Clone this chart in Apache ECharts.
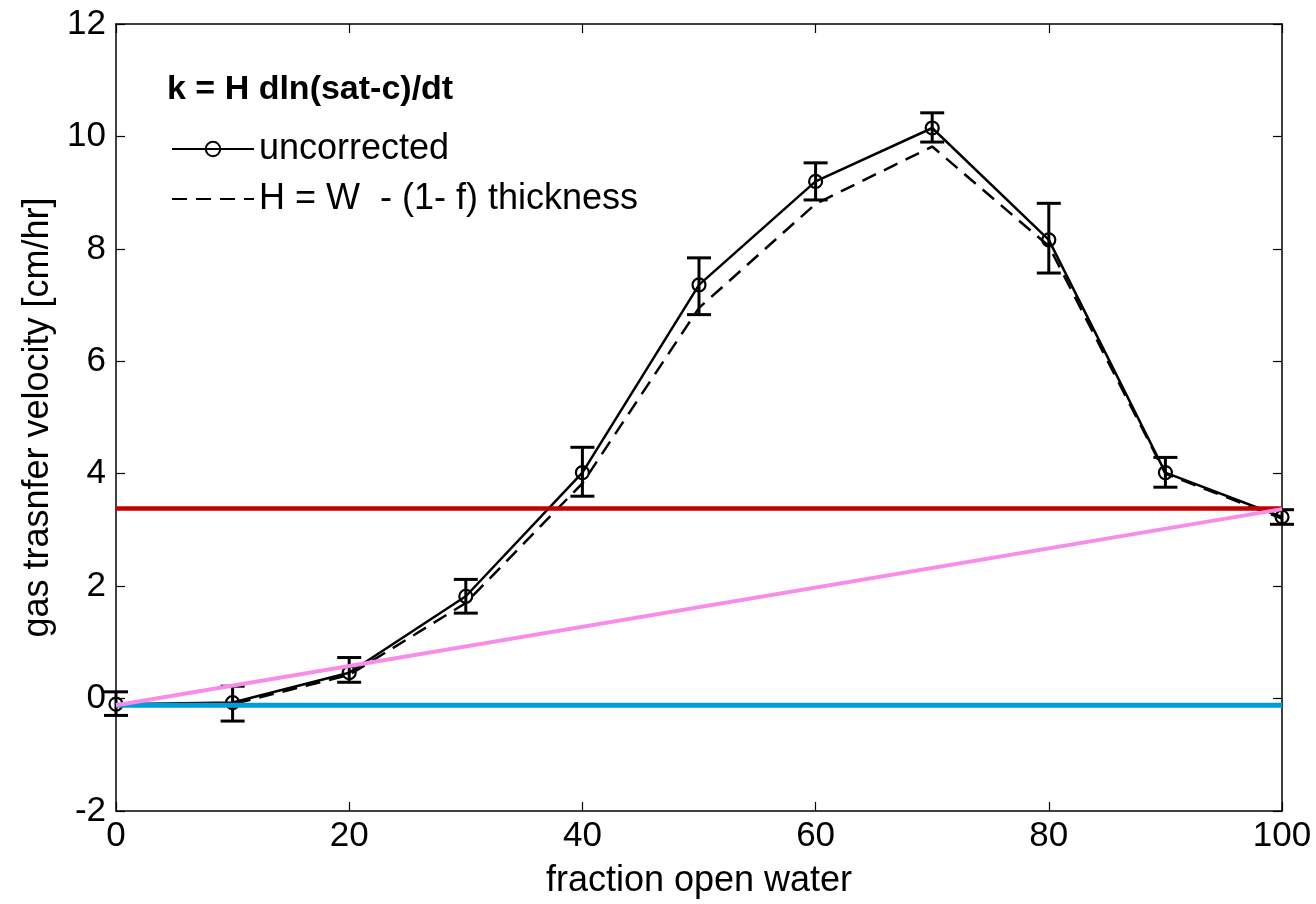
<!DOCTYPE html>
<html>
<head>
<meta charset="utf-8">
<script src="https://cdn.jsdelivr.net/npm/echarts@6/dist/echarts.min.js"></script>
<style>
html,body{margin:0;padding:0;background:#fff;}
#c{width:1316px;height:904px;}
</style>
</head>
<body>
<div id="c"></div>
<script>
const xValues = [0, 10, 20, 30, 40, 50, 60, 70, 80, 90, 100];
const uncorrected = [-0.1, -0.07, 0.46, 1.82, 4.02, 7.36, 9.2, 10.15, 8.16, 4.02, 3.23];
const errLow = [-0.3, -0.4, 0.29, 1.52, 3.6, 6.83, 8.87, 9.9, 7.57, 3.76, 3.1];
const errHigh = [0.12, 0.22, 0.73, 2.12, 4.47, 7.84, 9.53, 10.42, 8.81, 4.29, 3.36];
const corrected = [-0.1, -0.1, 0.42, 1.7, 3.83, 6.95, 8.8, 9.82, 8.05, 4.0, 3.2];
const redLevel = 3.38;
const blueLevel = -0.12;
const pinkStart = -0.12;
const pinkEnd = 3.37;
const xRange = [0, 100];
const legendNames = ['uncorrected', 'H = W  - (1- f) thickness'];
const titleText = 'k = H dln(sat-c)/dt';
const xName = 'fraction open water';
const yName = 'gas trasnfer velocity [cm/hr]';

const FONT = '"Liberation Sans", Arial, sans-serif';
const chart = echarts.init(document.getElementById('c'), null, {renderer: 'canvas'});

const axisCommon = {
  axisLine: {show: true, onZero: false, lineStyle: {color: '#000', width: 1.5}},
  axisTick: {show: true, inside: true, length: 9, lineStyle: {color: '#000', width: 1.2}},
  splitLine: {show: false}
};

const option = {
  animation: false,
  backgroundColor: '#fff',
  title: {
    text: titleText, left: 162, top: 68,
    textStyle: {fontFamily: FONT, fontWeight: 'bold', fontSize: 34, color: '#000'}
  },
  legend: {
    data: [
      {name: legendNames[0]},
      {name: legendNames[1], itemStyle: {color: 'transparent', borderColor: 'transparent', borderWidth: 0}}
    ],
    orient: 'vertical', left: 166, top: 125,
    itemWidth: 82, itemHeight: 18, itemGap: 12,
    textStyle: {fontFamily: FONT, fontSize: 36, color: '#000', lineHeight: 38}
  },
  grid: {left: 116, right: 34, top: 24, bottom: 92, containLabel: false},
  xAxis: [
    Object.assign({}, axisCommon, {
      type: 'value', min: 0, max: 100, interval: 20, position: 'bottom',
      name: xName, nameLocation: 'middle', nameGap: 52,
      nameTextStyle: {fontFamily: FONT, fontSize: 36, color: '#000'},
      axisLabel: {fontFamily: FONT, fontSize: 35, color: '#000', margin: 8}
    }),
    Object.assign({}, axisCommon, {
      type: 'value', min: 0, max: 100, interval: 20, position: 'top',
      axisLabel: {show: false}
    })
  ],
  yAxis: [
    Object.assign({}, axisCommon, {
      type: 'value', min: -2, max: 12, interval: 2, position: 'left',
      name: yName, nameLocation: 'middle', nameGap: 58,
      nameTextStyle: {fontFamily: FONT, fontSize: 36, color: '#000'},
      axisLabel: {fontFamily: FONT, fontSize: 35, color: '#000', margin: 10}
    }),
    Object.assign({}, axisCommon, {
      type: 'value', min: -2, max: 12, interval: 2, position: 'right',
      axisLabel: {show: false}
    })
  ],
  series: [
    {
      name: legendNames[0], type: 'line',
      data: xValues.map((x, i) => [x, uncorrected[i]]),
      symbol: 'circle', symbolSize: 13, clip: false,
      itemStyle: {color: 'transparent', borderColor: '#000', borderWidth: 2.2},
      lineStyle: {color: '#000', width: 2.5},
      z: 3
    },
    {
      name: legendNames[1], type: 'line',
      data: xValues.map((x, i) => [x, corrected[i]]),
      symbol: 'none', clip: false,
      itemStyle: {color: '#000'},
      lineStyle: {color: '#000', width: 2.5, type: [15, 9]},
      z: 2
    },
    {
      name: 'errorbars', type: 'custom', clip: false,
      data: xValues.map((x, i) => [x, errLow[i], errHigh[i]]),
      renderItem: function (params, api) {
        const x = api.value(0);
        const lo = api.coord([x, api.value(1)]);
        const hi = api.coord([x, api.value(2)]);
        const w = 12;
        const st = {stroke: '#000', lineWidth: 3};
        return {
          type: 'group',
          children: [
            {type: 'line', shape: {x1: lo[0], y1: lo[1], x2: hi[0], y2: hi[1]}, style: st},
            {type: 'line', shape: {x1: lo[0] - w, y1: lo[1], x2: lo[0] + w, y2: lo[1]}, style: st},
            {type: 'line', shape: {x1: hi[0] - w, y1: hi[1], x2: hi[0] + w, y2: hi[1]}, style: st}
          ]
        };
      },
      z: 3
    },
    {
      name: 'blue', type: 'line', symbol: 'none',
      data: [[xRange[0], blueLevel], [xRange[1], blueLevel]],
      lineStyle: {color: '#009ddb', width: 5}, z: 5
    },
    {
      name: 'pink', type: 'line', symbol: 'none',
      data: [[xRange[0], pinkStart], [xRange[1], pinkEnd]],
      lineStyle: {color: '#f78de8', width: 4}, z: 6
    },
    {
      name: 'red', type: 'line', symbol: 'none',
      data: [[xRange[0], redLevel], [xRange[1], redLevel]],
      lineStyle: {color: '#c40000', width: 4.5}, z: 5
    }
  ]
};
chart.setOption(option);
</script>
</body>
</html>
